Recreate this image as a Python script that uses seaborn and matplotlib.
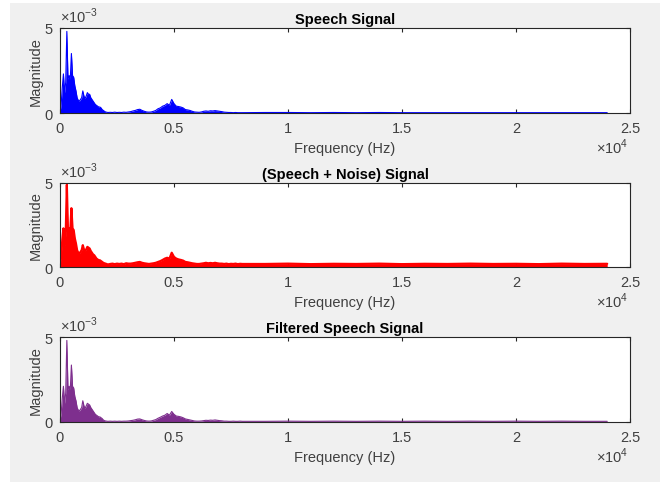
import numpy as np
import matplotlib
matplotlib.use("Agg")
import matplotlib.pyplot as plt
import seaborn as sns
from matplotlib.patches import Rectangle

sns.set_style("white")
plt.rcParams['font.family'] = ['Liberation Sans', 'DejaVu Sans']
plt.rcParams['mathtext.fontset'] = 'custom'
plt.rcParams['mathtext.rm'] = 'Liberation Sans'

# Frequency grid (Hz): 50 Hz steps below 2 kHz, 100 Hz steps to 8 kHz, 1 kHz steps to 24 kHz
freq = np.concatenate([np.arange(0, 2000, 50), np.arange(2000, 8001, 100),
                       np.arange(9000, 24001, 1000)])

# Magnitudes in units of 1e-3
speech = [
    0.0, 0.5, 1.5, 2.3, 1.2, 1.8, 4.8, 2.0, 2.2, 2.0,
    3.5, 2.2, 2.1, 1.6, 1.3, 0.9, 0.75, 0.7, 0.8, 0.9,
    1.3, 1.0, 0.85, 1.0, 1.2, 1.1, 1.1, 0.9, 0.8, 0.7,
    0.6, 0.5, 0.45, 0.4, 0.35, 0.35, 0.3, 0.2, 0.15, 0.1,
    0.06, 0.03, 0.04, 0.03, 0.05, 0.03, 0.04, 0.03, 0.05, 0.04,
    0.06, 0.08, 0.12, 0.15, 0.2, 0.22, 0.15, 0.1, 0.06, 0.05,
    0.06, 0.1, 0.15, 0.25, 0.3, 0.4, 0.45, 0.55, 0.45, 0.8,
    0.55, 0.4, 0.38, 0.35, 0.3, 0.2, 0.18, 0.15, 0.1, 0.06,
    0.05, 0.04, 0.06, 0.1, 0.12, 0.1, 0.13, 0.12, 0.14, 0.12,
    0.1, 0.08, 0.05, 0.04, 0.03, 0.03, 0.02, 0.03, 0.02, 0.02,
    0.02,
    0.03, 0.03, 0.02, 0.03, 0.02, 0.03, 0.02, 0.02, 0.02, 0.02,
    0.02, 0.02, 0.02, 0.02, 0.02, 0.02,
]
noisy = [
    0.1, 0.6, 1.6, 2.3, 1.3, 1.9, 4.9, 2.1, 2.3, 2.1,
    3.5, 2.3, 2.2, 1.7, 1.4, 1.0, 0.85, 0.8, 0.9, 1.0,
    1.3, 1.05, 0.95, 1.05, 1.2, 1.15, 1.1, 0.95, 0.85, 0.75,
    0.7, 0.6, 0.5, 0.45, 0.4, 0.4, 0.35, 0.3, 0.25, 0.22,
    0.2, 0.15, 0.18, 0.2, 0.17, 0.2, 0.18, 0.2, 0.17, 0.22,
    0.2, 0.2, 0.22, 0.25, 0.28, 0.3, 0.25, 0.22, 0.2, 0.18,
    0.2, 0.22, 0.25, 0.3, 0.35, 0.42, 0.5, 0.55, 0.5, 0.85,
    0.6, 0.5, 0.45, 0.42, 0.38, 0.3, 0.28, 0.25, 0.22, 0.2,
    0.18, 0.18, 0.2, 0.22, 0.25, 0.22, 0.24, 0.22, 0.25, 0.22,
    0.2, 0.2, 0.18, 0.2, 0.17, 0.19, 0.18, 0.2, 0.17, 0.19,
    0.18,
    0.18, 0.2, 0.17, 0.19, 0.18, 0.2, 0.17, 0.19, 0.18, 0.2,
    0.18, 0.19, 0.17, 0.2, 0.18, 0.19,
]
filtered = [
    0.1, 0.5, 1.4, 2.1, 1.1, 1.7, 4.8, 1.9, 2.1, 1.9,
    3.35, 2.1, 2.0, 1.5, 1.25, 0.85, 0.7, 0.65, 0.75, 0.85,
    1.25, 0.95, 0.8, 0.95, 1.1, 1.05, 1.0, 0.85, 0.75, 0.65,
    0.55, 0.45, 0.4, 0.35, 0.3, 0.3, 0.25, 0.2, 0.12, 0.08,
    0.06, 0.04, 0.05, 0.04, 0.05, 0.04, 0.05, 0.04, 0.05, 0.05,
    0.06, 0.08, 0.1, 0.13, 0.17, 0.18, 0.13, 0.09, 0.06, 0.05,
    0.06, 0.1, 0.14, 0.22, 0.28, 0.35, 0.4, 0.5, 0.4, 0.62,
    0.45, 0.35, 0.33, 0.3, 0.25, 0.18, 0.15, 0.12, 0.09, 0.06,
    0.05, 0.05, 0.06, 0.08, 0.1, 0.09, 0.11, 0.1, 0.12, 0.1,
    0.08, 0.07, 0.05, 0.05, 0.04, 0.04, 0.05, 0.04, 0.04, 0.05,
    0.04,
    0.04, 0.05, 0.04, 0.05, 0.04, 0.05, 0.04, 0.05, 0.04, 0.05,
    0.04, 0.05, 0.04, 0.05, 0.04, 0.04,
]

titles = ["Speech Signal", "(Speech + Noise) Signal", "Filtered Speech Signal"]
colors = ["#0000ff", "#ff0000", "#7e2f8e"]
series = [speech, noisy, filtered]
xticks = [0, 5000, 10000, 15000, 20000, 25000]
xticklabels = ["0", "0.5", "1", "1.5", "2", "2.5"]

W, H = 664, 485
fig = plt.figure(figsize=(W / 100, H / 100), dpi=100)
fig.patch.set_facecolor("white")
bg = Rectangle((10 / W, 2 / H), 650 / W, 479 / H, transform=fig.transFigure,
               facecolor="#f0f0f0", edgecolor="none", zorder=-10)
fig.add_artist(bg)

ax_px = [(29, 114), (184, 268), (338, 423)]
left, right = 60, 630
txt = "#262626"
grey = "#404040"
fs = 10.5
for (top, bot), title, col, vals in zip(ax_px, titles, colors, series):
    ax = fig.add_axes([left / W, 1 - bot / H, (right - left) / W, (bot - top) / H])
    ax.set_zorder(1)
    ax.set_facecolor("white")
    y = np.array(vals) * 1e-3
    lw = 1.6 if col == "#ff0000" else 0.8
    sns.lineplot(x=freq, y=y, ax=ax, color=col, linewidth=lw)
    ax.fill_between(freq, 0, y, color=col, linewidth=0)
    ax.set_xlim(0, 25000)
    ax.set_ylim(0, 0.005)
    ax.set_xticks(xticks)
    ax.set_xticklabels(xticklabels)
    ax.set_yticks([0, 0.005])
    ax.set_yticklabels(["0", "5"])
    ax.tick_params(direction="in", length=3, width=0.8, colors=txt,
                   labelsize=fs, top=True, right=True, bottom=True, left=True,
                   labelcolor=grey)
    ax.tick_params(axis="x", pad=6)
    ax.tick_params(axis="y", pad=5)
    for s in ax.spines.values():
        s.set_color(txt)
        s.set_linewidth(0.8)
        s.set_visible(True)
    ax.set_title(title, fontsize=fs, fontweight="bold", color="black", pad=3.5)
    ax.set_xlabel("Frequency (Hz)", fontsize=fs, color=grey, labelpad=4)
    ax.set_ylabel("Magnitude", fontsize=fs, color=grey, labelpad=1.5)
    fig.text(left / W, 1 - (top - 3) / H, r"$\times10^{-3}$", fontsize=fs,
             color=grey, ha="left", va="bottom", zorder=2)
    fig.text((right - 2) / W, 1 - (bot + 33) / H, r"$\times10^{4}$", fontsize=fs,
             color=grey, ha="right", va="center", zorder=2)

fig.savefig("out.png", dpi=100, facecolor=fig.get_facecolor())
